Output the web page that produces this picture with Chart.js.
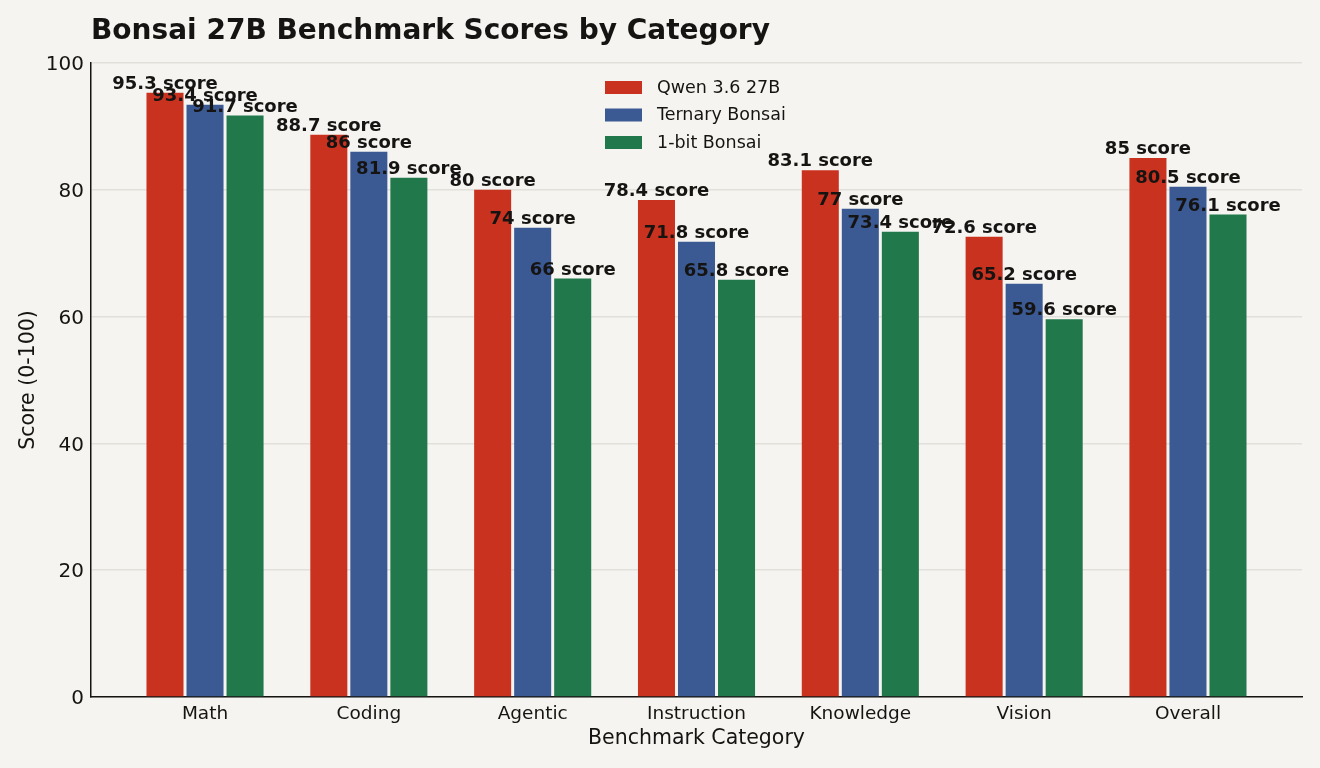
<!DOCTYPE html>
<html>
<head>
<meta charset="utf-8">
<script src="https://cdn.jsdelivr.net/npm/chart.js@4/dist/chart.umd.min.js"></script>
<style>
	html, body { margin: 0; padding: 0; background: #F5F4F0; }
	#wrap { width: 1320px; height: 768px; position: relative; }
</style>
</head>
<body>
<div id="wrap"><canvas id="benchChart" width="1320" height="768"></canvas></div>
<script>
// 카테고리 / 시리즈 값
const categories = ['Math', 'Coding', 'Agentic', 'Instruction', 'Knowledge', 'Vision', 'Overall'];
const qwenScores = [95.3, 88.7, 80, 78.4, 83.1, 72.6, 85];
const ternaryScores = [93.4, 86, 74, 71.8, 77, 65.2, 80.5];
const onebitScores = [91.7, 81.9, 66, 65.8, 73.4, 59.6, 76.1];
const seriesNames = ['Qwen 3.6 27B', 'Ternary Bonsai', '1-bit Bonsai'];
const yTicks = [0, 20, 40, 60, 80, 100];

const FONT = "'DejaVu Sans', sans-serif";
const INK = '#161412';

function toPoints(arr) {
	return arr.map((v, i) => ({ x: i, y: v }));
}

// 막대 위 값 라벨
const valueLabels = {
	id: 'valueLabels',
	afterDatasetsDraw(chart) {
		const ctx = chart.ctx;
		ctx.save();
		ctx.font = 'bold 18px ' + FONT;
		ctx.fillStyle = INK;
		ctx.textAlign = 'center';
		ctx.textBaseline = 'alphabetic';
		chart.data.datasets.forEach((ds, di) => {
			chart.getDatasetMeta(di).data.forEach((bar, i) => {
				ctx.fillText(ds.data[i].y + ' score', bar.x, bar.y - 4);
			});
		});
		ctx.restore();
	}
};

// 제목 + 범례 (차트 영역 안쪽)
const titleLegend = {
	id: 'titleLegend',
	afterDraw(chart) {
		const ctx = chart.ctx;
		ctx.save();
		ctx.font = 'bold 28px ' + FONT;
		ctx.fillStyle = INK;
		ctx.textAlign = 'left';
		ctx.textBaseline = 'middle';
		ctx.fillText('Bonsai 27B Benchmark Scores by Category', 91, 32);

		ctx.font = '17.5px ' + FONT;
		chart.data.datasets.forEach((ds, i) => {
			const y = 87 + i * 27.5;
			ctx.fillStyle = ds.backgroundColor;
			ctx.fillRect(605, y - 6, 37, 13);
			ctx.fillStyle = INK;
			ctx.fillText(ds.label, 657, y + 1);
		});
		ctx.restore();
	}
};

new Chart(document.getElementById('benchChart'), {
	type: 'bar',
	data: {
		datasets: [
			{ label: seriesNames[0], data: toPoints(qwenScores), backgroundColor: '#C9321F' },
			{ label: seriesNames[1], data: toPoints(ternaryScores), backgroundColor: '#3B5A94' },
			{ label: seriesNames[2], data: toPoints(onebitScores), backgroundColor: '#21784B' }
		]
	},
	options: {
		responsive: false,
		animation: false,
		layout: { padding: { top: 63, right: 18, left: 0, bottom: 0 } },
		datasets: {
			bar: { categoryPercentage: 0.733, barPercentage: 0.925 }
		},
		scales: {
			x: {
				type: 'linear',
				offset: false,
				min: -0.696,
				max: 6.696,
				afterBuildTicks: scale => { scale.ticks = categories.map((c, i) => ({ value: i })); },
				afterFit: scale => { scale.height = 71; },
				grid: { display: false, drawTicks: false },
				border: { color: INK, width: 1.5 },
				ticks: {
					callback: v => categories[v],
					color: INK,
					font: { family: FONT, size: 18.5 },
					padding: 6,
					autoSkip: false,
					maxRotation: 0
				},
				title: {
					display: true,
					text: 'Benchmark Category',
					color: INK,
					font: { family: FONT, size: 20.5 },
					padding: { top: 0, bottom: 17 }
				}
			},
			y: {
				min: 0,
				max: 100,
				afterBuildTicks: scale => { scale.ticks = yTicks.map(v => ({ value: v })); },
				afterFit: scale => { scale.width = 91; },
				grid: { color: '#E2E0DA', lineWidth: 1.5, drawTicks: false },
				border: { color: INK, width: 1.5 },
				ticks: {
					color: INK,
					font: { family: FONT, size: 20 },
					padding: 7,
					labelOffset: 2
				},
				title: {
					display: true,
					text: 'Score (0-100)',
					color: INK,
					font: { family: FONT, size: 20.5 },
					padding: { top: 16, bottom: 0 }
				}
			}
		},
		plugins: {
			legend: { display: false },
			title: { display: false },
			tooltip: { enabled: false }
		}
	},
	plugins: [valueLabels, titleLegend]
});
</script>
</body>
</html>
